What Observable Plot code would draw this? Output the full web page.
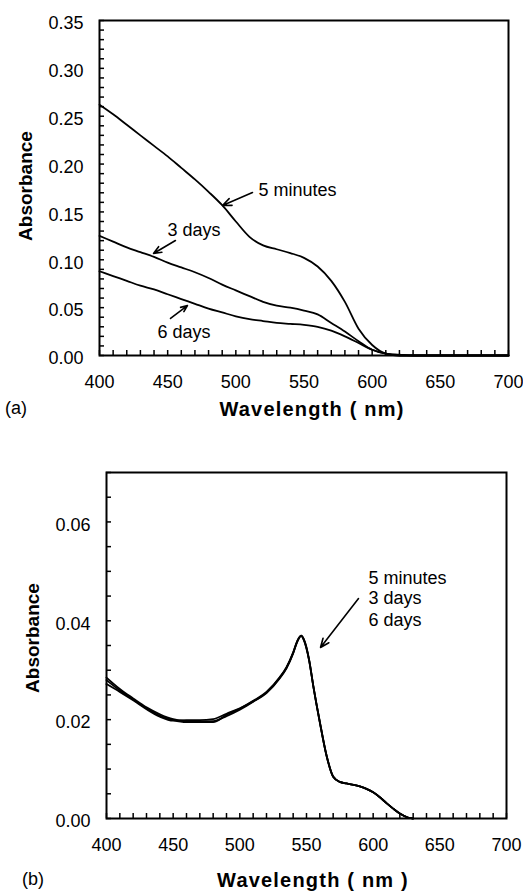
<!DOCTYPE html>
<html><head><meta charset="utf-8">
<script src="https://cdn.jsdelivr.net/npm/d3@7"></script>
<script src="https://cdn.jsdelivr.net/npm/@observablehq/plot@0.6"></script>
<style>
body{margin:0;background:#fff;}
#root{position:relative;width:523px;height:892px;font-family:"Liberation Sans",Arial,Helvetica,sans-serif;color:#000;overflow:hidden;}
.panel{position:absolute;left:0;}
.lbl{position:absolute;white-space:nowrap;line-height:1;}
.title{font-weight:bold;font-size:20px;letter-spacing:1.2px;transform:translate(-50%,-50%);}
.ylab{font-weight:bold;font-size:19px;transform:translate(-50%,-50%) rotate(-90deg);}
.tag{font-size:18px;transform:translate(0,-50%);}
</style></head><body><div id="root"></div>
<script>
// ---------- Panel (a) data ----------
const waveA = [400,410,420,430,440,450,460,470,480,490,500,510,520,530,540,550,560,570,580,590,600,610,620,630,640,650,660,670,680,690,700];
const min5A = [0.262,0.252,0.241,0.230,0.219,0.208,0.196,0.184,0.171,0.157,0.140,0.124,0.115,0.111,0.107,0.102,0.093,0.078,0.056,0.028,0.011,0.002,0.000,0,0,0,0,0,0,0,0];
const days3A = [0.125,0.119,0.113,0.108,0.103,0.097,0.092,0.087,0.081,0.074,0.068,0.062,0.056,0.052,0.050,0.047,0.043,0.034,0.025,0.015,0.006,0.002,0.001,0,0,0,0,0,0,0,0];
const days6A = [0.088,0.083,0.078,0.073,0.069,0.064,0.059,0.054,0.049,0.045,0.041,0.038,0.036,0.034,0.033,0.032,0.030,0.026,0.020,0.013,0.006,0.002,0.000,0,0,0,0,0,0,0,0];
const xTicks = [400,450,500,550,600,650,700];
const yTicksA = [0,0.05,0.10,0.15,0.20,0.25,0.30,0.35];
const notesA = [
  {text:"5 minutes", x:516.6, y:0.1724, tx:512.2, ty:0.1703, hx:490.2, hy:0.1567},
  {text:"3 days",    x:449.9, y:0.1306, tx:455.7, ty:0.1201, hx:439.6, hy:0.1066},
  {text:"6 days",    x:442.5, y:0.0240, tx:452.1, ty:0.0387, hx:464.5, hy:0.0522}
];

// ---------- Panel (b) data ----------
const waveB = [400,410,420,430,440,450,460,470,480,490,500,510,520,530,535,540,543,546,548,552,555,560,565,570,575,580,590,595,600,605,610,615,620,626,630];
const min5B = [0.0285,0.0262,0.0243,0.0225,0.0211,0.0201,0.0197,0.0196,0.0197,0.0207,0.0220,0.0236,0.0255,0.0285,0.0305,0.0335,0.0358,0.0370,0.0362,0.0320,0.0270,0.0195,0.0128,0.0085,0.0074,0.0071,0.0065,0.0060,0.0053,0.0043,0.0031,0.0020,0.0010,0.0002,0.0];
const days3B = [0.0280,0.0259,0.0241,0.0223,0.0208,0.0199,0.0195,0.0195,0.0195,0.0210,0.0222,0.0238,0.0256,0.0286,0.0306,0.0336,0.0359,0.0370,0.0363,0.0321,0.0270,0.0196,0.0128,0.0085,0.0074,0.0071,0.0065,0.0060,0.0053,0.0043,0.0031,0.0020,0.0010,0.0002,0.0];
const days6B = [0.0272,0.0256,0.0239,0.0221,0.0206,0.0198,0.0199,0.0199,0.0201,0.0212,0.0223,0.0237,0.0254,0.0284,0.0304,0.0334,0.0357,0.0369,0.0361,0.0319,0.0269,0.0194,0.0127,0.0084,0.0074,0.0071,0.0065,0.0060,0.0053,0.0043,0.0031,0.0020,0.0010,0.0002,0.0];
const yTicksB = [0,0.02,0.04,0.06];
const notesB = [
  {text:"5 minutes", x:596.5, y:0.0486},
  {text:"3 days",    x:596.5, y:0.0445},
  {text:"6 days",    x:596.5, y:0.0401}
];
const arrowsB = [{tx:589, ty:0.0445, hx:560.5, hy:0.0346}];

const FONT = '"Liberation Sans", Arial, Helvetica, sans-serif';

function toRows(wave, seriesList) {
  const rows = [];
  for (const [name, vals] of seriesList) wave.forEach((w, i) => rows.push({series: name, wl: w, abs: vals[i]}));
  return rows;
}

function panel({top, height, mt, mb, ml, mr, yMax, yMinorStep, yTicks, rows, notes, arrows}) {
  const width = 523;
  const xMinor = d3.range(400, 701, 10);
  const yMinor = d3.range(0, yMax + 1e-9, yMinorStep);
  const chart = Plot.plot({
    width, height, marginTop: mt, marginBottom: mb, marginLeft: ml, marginRight: mr,
    style: {fontFamily: FONT, fontSize: "18px", color: "black", background: "white", overflow: "visible"},
    x: {domain: [400, 700], label: null},
    y: {domain: [0, yMax], label: null},
    marks: [
      Plot.axisX(xMinor, {tickSize: 5, dy: -5, tickFormat: () => "", label: null, strokeWidth: 1.5}),
      Plot.axisY(yMinor, {tickSize: 5, dx: 5, tickFormat: () => "", label: null, strokeWidth: 1.5}),
      Plot.axisX(xTicks, {tickSize: 0, tickPadding: 20, tickFormat: d => String(d), label: null, fontSize: 18}),
      Plot.axisY(yTicks, {tickSize: 0, tickPadding: 16, tickFormat: d3.format(".2f"), label: null, dy: 3, fontSize: 18}),
      Plot.line(rows, {x: "wl", y: "abs", z: "series", stroke: "black", strokeWidth: 1.8, curve: "monotone-x"}),
      Plot.frame({stroke: "black", strokeWidth: 2}),
      Plot.text(notes, {x: "x", y: "y", text: "text", textAnchor: "start", fontSize: 18, fill: "black"}),
      Plot.arrow(arrows, {x1: "tx", y1: "ty", x2: "hx", y2: "hy", stroke: "black", strokeWidth: 1.6, headLength: 9, headAngle: 45})
    ]
  });
  chart.classList.add("panel");
  chart.style.top = top + "px";
  return chart;
}

const root = document.getElementById("root");

const rowsA = toRows(waveA, [["5 minutes", min5A], ["3 days", days3A], ["6 days", days6A]]);
root.appendChild(panel({top: 0, height: 440, mt: 20, mb: 85, ml: 99, mr: 15, yMax: 0.35, yMinorStep: 0.01,
  yTicks: yTicksA, rows: rowsA, notes: notesA, arrows: notesA}));

const rowsB = toRows(waveB, [["5 minutes", min5B], ["3 days", days3B], ["6 days", days6B]]);
root.appendChild(panel({top: 440, height: 452, mt: 32, mb: 74, ml: 106, mr: 17, yMax: 0.07, yMinorStep: 0.005,
  yTicks: yTicksB, rows: rowsB, notes: notesB, arrows: arrowsB}));

function label(text, cls, x, y) {
  const d = document.createElement("div");
  d.className = "lbl " + cls;
  d.textContent = text;
  d.style.left = x + "px";
  d.style.top = y + "px";
  root.appendChild(d);
}
label("Absorbance", "ylab", 25, 186);
label("Wavelength ( nm)", "title", 312, 409);
label("(a)", "tag", 5, 408);
label("Absorbance", "ylab", 32, 638);
label("Wavelength ( nm )", "title", 313, 880);
label("(b)", "tag", 22, 879);
</script></body></html>
